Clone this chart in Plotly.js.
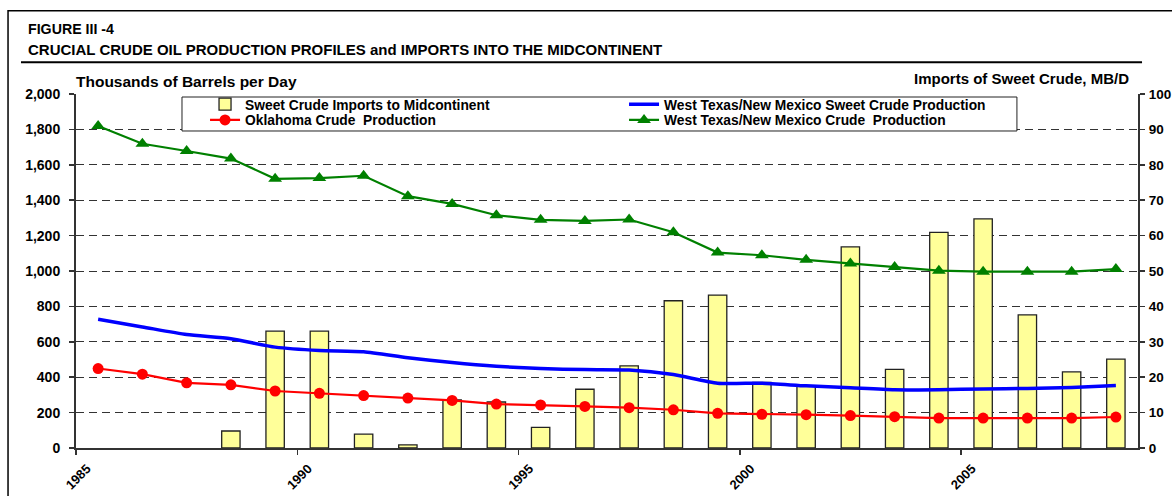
<!DOCTYPE html>
<html><head><meta charset="utf-8">
<script src="https://cdn.plot.ly/plotly-3.0.1.min.js"></script>
<style>html,body{margin:0;padding:0;background:#fff;} #chart{width:1172px;height:496px;}</style>
</head><body><div id="chart"></div>
<script>
// ---- data ----
const years = [1985,1986,1987,1988,1989,1990,1991,1992,1993,1994,1995,1996,1997,1998,1999,2000,2001,2002,2003,2004,2005,2006,2007,2008];
// Sweet crude imports to Midcontinent, MB/D (right axis)
const sweetImports = [null,null,null,4.8,33.0,33.0,3.9,0.9,13.6,13.0,5.8,16.6,23.2,41.6,43.2,18.5,17.5,56.8,22.2,60.9,64.7,37.6,21.5,25.1];
// West Texas/New Mexico sweet crude production, thousand b/d (left axis)
const wtnmSweet = [727,684,641,617,570,551,544,510,483,462,449,443,441,415,366,366,351,340,329,329,334,336,342,353];
// Oklahoma crude production, thousand b/d
const oklahoma = [449,417,368,357,322,309,296,282,269,248,243,235,228,216,196,190,188,183,177,169,169,169,169,175];
// West Texas/New Mexico crude production, thousand b/d
const wtnmCrude = [1819,1719,1678,1635,1521,1525,1538,1423,1379,1315,1289,1283,1291,1219,1104,1089,1063,1043,1022,1002,996,996,996,1011];
const xTicks = [1985,1990,1995,2000,2005];

// each value sits in the middle of its year
const xMid = years.map(y => y + 0.5);

const FONT = 'Liberation Sans, Arial, Helvetica, sans-serif';
const bold = (size) => ({family: FONT, size: size, weight: 700, color: '#000'});

const traces = [
  {type:'bar', name:'Sweet Crude Imports to Midcontinent', x:xMid, y:sweetImports, yaxis:'y', width:0.415,
   marker:{color:'#FFFF99', line:{color:'#222', width:1.3}}, legend:'legend', hoverinfo:'x+y'},
  {type:'scatter', mode:'lines', name:'West Texas/New Mexico Sweet Crude Production', x:xMid, y:wtnmSweet, yaxis:'y2',
   line:{color:'#0000FF', width:3.5, shape:'spline', smoothing:0.6}, legend:'legend'},
  {type:'scatter', mode:'lines+markers', name:'Oklahoma Crude  Production', x:xMid, y:oklahoma, yaxis:'y2',
   line:{color:'#FF0000', width:2.2}, marker:{symbol:'circle', size:11, color:'#FF0000'}, legend:'legend2'},
  {type:'scatter', mode:'lines+markers', name:'West Texas/New Mexico Crude  Production', x:xMid, y:wtnmCrude, yaxis:'y2',
   line:{color:'#008000', width:2.2}, marker:{symbol:'triangle-up', size:12, color:'#008000'}, legend:'legend2'}
];

// plot area in px: x 76..1138, y 94..448
const legendCommon = {orientation:'h', xanchor:'left', yanchor:'top', x:0.1215,
  entrywidth:374, entrywidthmode:'pixels', font:bold(13.8), bgcolor:'rgba(0,0,0,0)', borderwidth:0, traceorder:'normal'};

const layout = {
  width:1172, height:496,
  margin:{l:76, r:34, t:94, b:48},
  paper_bgcolor:'#fff', plot_bgcolor:'#fff',
  showlegend:true,
  font:{family:FONT, color:'#000'},
  xaxis:{type:'linear', range:[1985,2009], tickmode:'array', tickvals:xTicks, ticktext:xTicks.map(String),
    tickangle:-45, ticks:'outside', ticklen:5, tickwidth:1.5, tickcolor:'#333', ticklabelshift:11, ticklabelstandoff:1,
    showline:true, linecolor:'#333', linewidth:2, showgrid:false, zeroline:false, tickfont:bold(13), fixedrange:true},
  yaxis:{range:[0,100], dtick:10, side:'right', ticks:'outside', ticklen:5, tickwidth:1.5, tickcolor:'#333',
    showline:true, linecolor:'#333', linewidth:2, showgrid:true, gridcolor:'#333', gridwidth:1, griddash:'8px,5px',
    zeroline:false, tickfont:bold(13.5), ticklabelstandoff:1, fixedrange:true},
  yaxis2:{range:[0,2000], dtick:200, tickformat:',d', overlaying:'y', side:'left', ticks:'outside', ticklen:5, tickwidth:1.5,
    tickcolor:'#333', showline:true, linecolor:'#333', linewidth:2, showgrid:false, zeroline:false,
    tickfont:bold(14), ticklabelstandoff:6, fixedrange:true},
  bargap:0,
  legend: Object.assign({}, legendCommon, {y:1.015}),
  legend2: Object.assign({}, legendCommon, {y:0.9706}),
  shapes:[
    // outer frame
    {type:'rect', xref:'paper', yref:'paper', x0:-0.064, x1:1.04, y0:-0.15, y1:1.2353, line:{color:'#000', width:1.5}, fillcolor:'rgba(0,0,0,0)', layer:'above'},
    // rule under the title
    {type:'line', xref:'paper', yref:'paper', x0:-0.0518, x1:1.0038, y0:1.0895, y1:1.0895, line:{color:'#000', width:2}},
    // legend box
    {type:'rect', xref:'paper', yref:'paper', x0:0.0998, x1:0.886, y0:0.8955, y1:0.9915, line:{color:'#222', width:1}, fillcolor:'#fff', layer:'above'}
  ],
  annotations:[
    {text:'FIGURE III -4', xref:'paper', yref:'paper', x:-0.0471, y:1.1836, xanchor:'left', yanchor:'middle', showarrow:false, font:bold(14.2)},
    {text:'CRUCIAL CRUDE OIL PRODUCTION PROFILES and IMPORTS INTO THE MIDCONTINENT', xref:'paper', yref:'paper', x:-0.0471, y:1.1271, xanchor:'left', yanchor:'middle', showarrow:false, font:bold(15)},
    {text:'Thousands of Barrels per Day', xref:'paper', yref:'paper', x:-0.002, y:1.0367, xanchor:'left', yanchor:'middle', showarrow:false, font:bold(15.5)},
    {text:'Imports of Sweet Crude, MB/D', xref:'paper', yref:'paper', x:0.9934, y:1.0424, xanchor:'right', yanchor:'middle', showarrow:false, font:bold(15)}
  ]
};

Plotly.newPlot('chart', traces, layout, {staticPlot:true, displayModeBar:false});
</script></body></html>
